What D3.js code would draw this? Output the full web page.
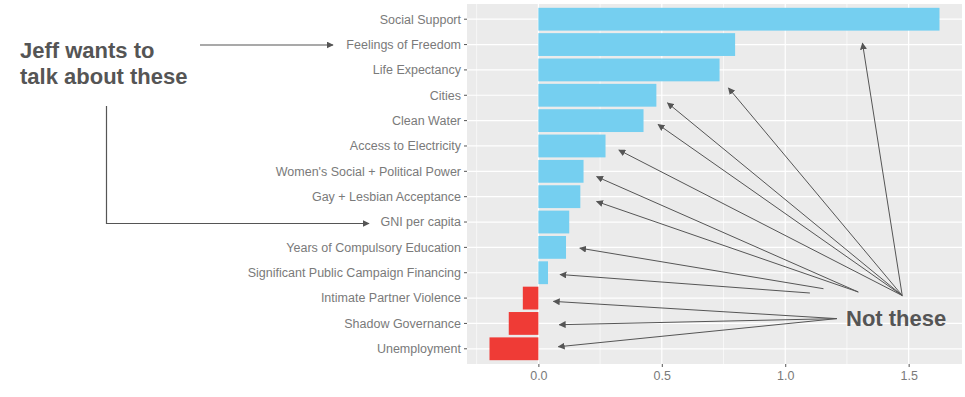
<!DOCTYPE html>
<html><head><meta charset="utf-8">
<script src="https://cdn.jsdelivr.net/npm/d3@7"></script>
<style>html,body{margin:0;padding:0;background:#fff;}svg{display:block;font-family:"Liberation Sans",Arial,sans-serif;}</style>
</head><body><svg id="c" width="965" height="397"></svg>
<script>
const categories = ["Social Support","Feelings of Freedom","Life Expectancy","Cities","Clean Water","Access to Electricity","Women's Social + Political Power","Gay + Lesbian Acceptance","GNI per capita","Years of Compulsory Education","Significant Public Campaign Financing","Intimate Partner Violence","Shadow Governance","Unemployment"];
const values = [1.625,0.797,0.734,0.478,0.426,0.272,0.183,0.170,0.125,0.112,0.039,-0.063,-0.120,-0.198];
const xTicks = [0,0.5,1.0,1.5];
const xTickLabels = ["0.0","0.5","1.0","1.5"];
const xMinor = [-0.25,0.25,0.75,1.25];
// annotation arrows in data space: [x value, row position]
const fanApex = [1.474,10.90];
const fanTips = [[1.313,0.943],[0.770,2.71],[0.523,3.30],[0.485,4.15],[0.326,5.16]];
const fanB = [1.296,10.76];
const fanBTips = [[0.236,6.21],[0.236,7.19]];
const singleArrows = [[[1.155,10.63],[0.168,9.03]],[[1.100,10.80],[0.088,10.07]]];
const notApex = [1.209,11.81];
const notTips = [[0.061,11.13],[0.085,12.05],[0.081,12.92]];
const leftText = ["Jeff wants to","talk about these"];
const rightText = "Not these";

const svg = d3.select("#c");
const P = {l:467, r:962, t:4, b:364};
const vmin = d3.min(values), vmax = d3.max(values), span = vmax - vmin;
const x = d3.scaleLinear().domain([vmin - 0.05*span, vmax + 0.05*span]).range([P.l, P.r]);
const step = (P.b - P.t) / (categories.length - 1 + 1.2);
const yPos = i => P.t + step*0.6 + i*step;

svg.append("rect").attr("x",P.l).attr("y",P.t).attr("width",P.r-P.l).attr("height",P.b-P.t).attr("fill","#EBEBEB");
const g = svg.append("g");
g.selectAll(".minor").data(xMinor).join("line").attr("x1",d=>x(d)).attr("x2",d=>x(d)).attr("y1",P.t).attr("y2",P.b).attr("stroke","#fff").attr("stroke-width",0.6);
g.selectAll(".major").data(xTicks).join("line").attr("x1",d=>x(d)).attr("x2",d=>x(d)).attr("y1",P.t).attr("y2",P.b).attr("stroke","#fff").attr("stroke-width",1.2);
g.selectAll(".hmaj").data(categories).join("line").attr("x1",P.l).attr("x2",P.r).attr("y1",(d,i)=>yPos(i)).attr("y2",(d,i)=>yPos(i)).attr("stroke","#fff").attr("stroke-width",1.2);

const bw = step*0.9;
svg.append("g").selectAll("rect").data(values).join("rect")
  .attr("x",d=>x(Math.min(0,d))).attr("width",d=>Math.abs(x(d)-x(0)))
  .attr("y",(d,i)=>yPos(i)-bw/2).attr("height",bw)
  .attr("fill",d=>d>=0?"#75CFF0":"#EF3B36");

// axes
const xAxis = d3.axisBottom(x).tickValues(xTicks).tickFormat((d,i)=>xTickLabels[i]).tickSize(3).tickPadding(4);
const ax = svg.append("g").attr("transform",`translate(0,${P.b})`).call(xAxis);
ax.select(".domain").remove();
ax.selectAll("line").attr("stroke","#555");
ax.selectAll("text").attr("fill","#7a7a7a").style("font-size","12.5px").style("font-family","'Liberation Sans',Arial,sans-serif");

const ay = svg.append("g");
categories.forEach((c,i)=>{
  ay.append("line").attr("x1",P.l-3).attr("x2",P.l).attr("y1",yPos(i)).attr("y2",yPos(i)).attr("stroke","#555");
  ay.append("text").attr("x",P.l-6).attr("y",yPos(i)).attr("dy","0.35em").attr("text-anchor","end").attr("fill","#7a7a7a").style("font-size","12.5px").text(c);
});

// arrow marker
svg.append("defs").append("marker").attr("id","ah").attr("viewBox","0 0 10 10").attr("refX",9).attr("refY",5)
  .attr("markerWidth",7).attr("markerHeight",7).attr("markerUnits","userSpaceOnUse").attr("orient","auto")
  .append("path").attr("d","M0,0L10,5L0,10z").attr("fill","#555");

const px = p => [x(p[0]), P.t + step*0.6 + p[1]*step];
const arrows = [];
fanTips.forEach(t=>arrows.push([fanApex,t]));
fanBTips.forEach(t=>arrows.push([fanB,t]));
singleArrows.forEach(a=>arrows.push(a));
notTips.forEach(t=>arrows.push([notApex,t]));
svg.append("g").selectAll("line").data(arrows).join("line")
  .attr("x1",d=>px(d[0])[0]).attr("y1",d=>px(d[0])[1]).attr("x2",d=>px(d[1])[0]).attr("y2",d=>px(d[1])[1])
  .attr("stroke","#555").attr("stroke-width",1).attr("marker-end","url(#ah)");

// left annotation (outside the plot, in page pixels)
const lt = svg.append("g").attr("fill","#555").style("font-weight","bold").style("font-size","22px");
lt.append("text").attr("x",20).attr("y",58).text(leftText[0]);
lt.append("text").attr("x",20).attr("y",84).text(leftText[1]);
svg.append("line").attr("x1",200).attr("y1",45).attr("x2",333).attr("y2",45).attr("stroke","#555").attr("stroke-width",1.2).attr("marker-end","url(#ah)");
svg.append("path").attr("d","M106.5,106V223.5H369").attr("fill","none").attr("stroke","#555").attr("stroke-width",1.2).attr("marker-end","url(#ah)");

svg.append("text").attr("x",846).attr("y",326).attr("fill","#555").style("font-weight","bold").style("font-size","22px").text(rightText);
</script></body></html>
